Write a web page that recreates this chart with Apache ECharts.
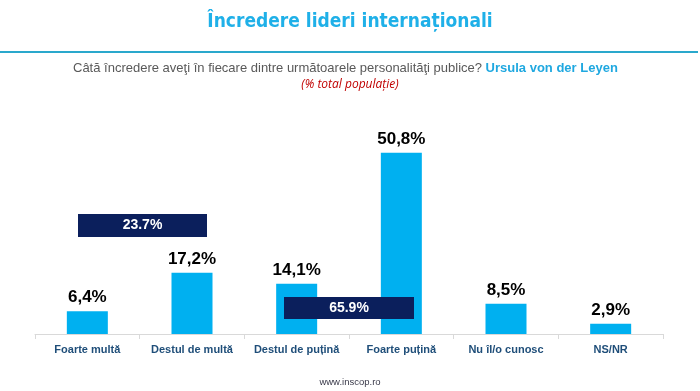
<!DOCTYPE html>
<html>
<head>
<meta charset="utf-8">
<script src="https://cdn.jsdelivr.net/npm/echarts@6/dist/echarts.min.js"></script>
<style>
html,body{margin:0;padding:0;background:#fff;}
#c{width:700px;height:391px;}
</style>
</head>
<body>
<div id="c"></div>
<script>
var categories = ['Foarte multă', 'Destul de multă', 'Destul de puțină', 'Foarte puțină', 'Nu îl/o cunosc', 'NS/NR'];
var values = [6.4, 17.2, 14.1, 50.8, 8.5, 2.9];
var groupLabels = ['23.7%', '65.9%'];
var titleText = 'Încredere lideri internaționali';
var questionText = 'Câtă încredere aveţi în fiecare dintre următoarele personalităţi publice? ';
var personText = 'Ursula von der Leyen';
var noteText = '(% total populație)';
var footerText = 'www.inscop.ro';

var chart = echarts.init(document.getElementById('c'));
chart.setOption({
  animation: false,
  backgroundColor: '#ffffff',
  grid: {left: 35, right: 37, top: 120, bottom: 57, containLabel: false},
  xAxis: {
    type: 'category',
    data: categories,
    axisLine: {show: true, lineStyle: {color: '#d9d9d9', width: 1}},
    axisTick: {show: true, alignWithLabel: false, length: 5, lineStyle: {color: '#d9d9d9'}},
    axisLabel: {interval: 0, color: '#1f4e79', fontWeight: 'bold', fontSize: 11, fontFamily: 'Liberation Sans, Arial', margin: 10}
  },
  yAxis: {
    type: 'value', min: 0, max: 60, show: false,
    splitLine: {show: false}
  },
  series: [{
    type: 'bar',
    data: values,
    barWidth: 41,
    itemStyle: {color: '#00b0f0'},
    label: {
      show: true, position: 'top', distance: 5,
      color: '#000', fontWeight: 'bold', fontSize: 17, fontFamily: 'Liberation Sans, Arial',
      formatter: function (p) { return String(p.value.toFixed(1)).replace('.', ',') + '%'; }
    },
    z: 2
  }],
  graphic: [
    {type: 'text', left: 'center', top: 13, style: {text: titleText, fill: '#1fb0e8', font: 'bold 19px "DejaVu Sans Condensed", "DejaVu Sans"'}},
    {type: 'rect', shape: {x: 0, y: 51, width: 698, height: 2}, style: {fill: '#2aa8cc'}},
    {type: 'text', left: 73, top: 62, style: {
      text: '{q|' + questionText + '}{p|' + personText + '}',
      rich: {
        q: {fill: '#595959', font: '13px "Liberation Sans", Arial'},
        p: {fill: '#1fa8e0', font: 'bold 13px "Liberation Sans", Arial'}
      }
    }},
    {type: 'text', left: 'center', top: 79, style: {text: noteText, fill: '#c00000', font: 'italic 12px "Open Sans", "Liberation Sans"'}},
    {type: 'text', left: 'center', top: 377, style: {text: footerText, fill: '#3a3a4a', font: '9.5px "Liberation Sans", Arial'}},
    {type: 'rect', z: 10, shape: {x: 78, y: 214, width: 129, height: 23}, style: {fill: '#0b1f5c'}},
    {type: 'text', z: 11, x: 142.5, y: 225.5, style: {text: groupLabels[0], fill: '#fff', font: 'bold 14px "Liberation Sans", Arial', align: 'center', verticalAlign: 'middle'}},
    {type: 'rect', z: 10, shape: {x: 284, y: 297, width: 130, height: 22}, style: {fill: '#0b1f5c'}},
    {type: 'text', z: 11, x: 349, y: 308, style: {text: groupLabels[1], fill: '#fff', font: 'bold 14px "Liberation Sans", Arial', align: 'center', verticalAlign: 'middle'}}
  ]
});
</script>
</body>
</html>
